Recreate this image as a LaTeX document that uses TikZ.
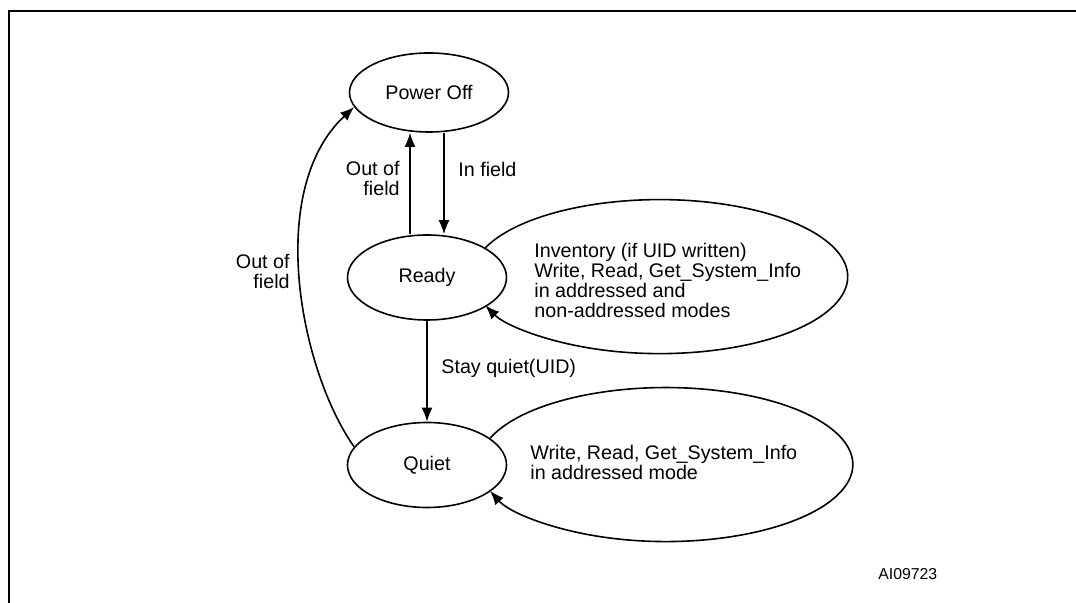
\documentclass[tikz,border=0pt]{standalone}
\usepackage{fontspec}
\setmainfont{Liberation Sans}
\usetikzlibrary{shapes.geometric, arrows.meta}
\tikzset{
  statenode/.style={draw, ellipse, line width=0.8pt, minimum width=79.5pt,
                    minimum height=42.5pt, inner sep=0pt,
                    font=\fontsize{9.85}{10}\selectfont},
  notetext/.style={inner sep=0pt, align=left, anchor=west,
                   font=\fontsize{9.85}{10}\selectfont},
  translabel/.style={notetext},
  trans/.style={line width=0.8pt, -{Latex[length=7pt, width=5.5pt]}},
  frameline/.style={line width=1.2pt},
}
\begin{document}
\begin{tikzpicture}[x=0.5pt, y=-0.5pt]
    \useasboundingbox (0,0) rectangle (1076,603);
    \draw[frameline] (9,603) -- (9,11) -- (1076,11);
    \node[statenode, minimum height=39.5pt] (poweroff) at (429,92.5) {Power Off};
    \node[statenode] (ready) at (427,277.5) {Ready};
    \node[statenode] (quiet) at (427,465) {Quiet};
    \draw[trans] ([xshift=-8.5pt]ready.north) -- ([xshift=-8.5pt]ready.north |- poweroff.south);
    \draw[trans] ([xshift=8.5pt]ready.north |- poweroff.south) -- ([xshift=8.5pt]ready.north);
    \node[translabel, anchor=east, align=right] (outready) at (400,178.4) {Out of\\field};
    \node[translabel] (infield) at (458,169) {In field};
    \draw[trans] (ready) -- (quiet);
    \node[translabel] (stayquiet) at (441,368.5) {Stay quiet(UID)};
    \draw[trans] (quiet.166) .. controls (300,370) and (265,190) .. (poweroff.191);
    \node[translabel, anchor=east, align=right] (outquiet) at (290,271) {Out of\\field};
    \draw[trans] (ready.27) arc[start angle=-158, end angle=158, x radius=188, y radius=77];
    \node[notetext] (readycmds) at (534,280) {Inventory (if UID written)\\Write, Read, Get\_System\_Info\\in addressed and\\non-addressed modes};
    \draw[trans] (quiet.23) arc[start angle=-160, end angle=160, x radius=187, y radius=77];
    \node[notetext] (quietcmds) at (530,462) {Write, Read, Get\_System\_Info\\in addressed mode};
    \node[notetext, font=\fontsize{7.9}{9}\selectfont] (figid) at (878,573.6) {AI09723};
  \end{tikzpicture}
\end{document}
